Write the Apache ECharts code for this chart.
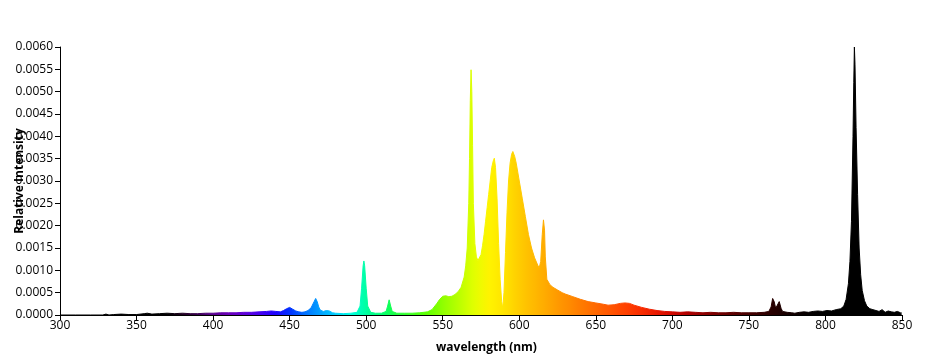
<!DOCTYPE html>
<html>
<head>
<meta charset="utf-8">
<script src="https://cdn.jsdelivr.net/npm/echarts@6/dist/echarts.min.js"></script>
<style>
html,body{margin:0;padding:0;background:#fff;}
#chart{width:939px;height:364px;}
</style>
</head>
<body>
<div id="chart"></div>
<script>
// Wavelength (nm) samples
const wavelengths = [300,310,320,328,330,332,335,340,345,350,355,357,360,365,370,375,380,385,390,395,400,405,410,415,420,425,430,435,438,441,444,446,448,450,452,454,456,458,460,462,464,466,467,468,469,470,472,474,475,476,478,480,485,490,494,496,497,498,498.5,499,500,501,503,506,510,513,514,515,516,517,520,525,530,535,540,543,546,548,550,552,554,556,558,560,562,564,565,566,567,567.5,568,568.5,569,569.5,570,571,572,573,574,575,576,577,578,579,580,581,582,583,583.7,584.5,585.5,586.5,587.5,588.5,589.2,590,591,592,593,594,595,595.8,597,598,600,602,604,606,608,610,612,613,614,615,615.8,616.5,617,618,620,622,625,628,630,635,640,645,650,655,658,662,666,669,672,675,680,685,690,695,700,705,710,715,720,725,730,735,740,745,750,755,760,763,764.5,765.5,766.5,767.5,768.5,769.8,771,772,775,778,780,783,786,789,792,795,798,801,804,807,810,812,813.5,815,816,817,818,818.5,818.9,819.3,820,821,822,823,824,825.5,827,829,831,833,835,837,839,841,843,845,847,849,850];
// Relative intensity at each wavelength
const intensities = [0,0,0,0,0.00002,0,0.00001,0.00002,0.00001,0.00001,0.00003,0.00004,0.00002,0.00003,0.00004,0.00003,0.00004,0.00003,0.00003,0.00004,0.00004,0.00005,0.00005,0.00005,0.00006,0.00006,0.00007,0.00008,0.00009,0.00008,0.00007,0.00010,0.00014,0.00017,0.00013,0.00009,0.00007,0.00006,0.00007,0.00010,0.00016,0.00030,0.00037,0.00030,0.00018,0.00011,0.00008,0.00010,0.00011,0.00009,0.00005,0.00004,0.00003,0.00004,0.00006,0.00020,0.00060,0.00110,0.00121,0.00110,0.00060,0.00020,0.00006,0.00004,0.00004,0.00008,0.00020,0.00034,0.00020,0.00008,0.00004,0.00004,0.00004,0.00005,0.00007,0.00012,0.00025,0.00035,0.00042,0.00043,0.00041,0.00042,0.00046,0.00052,0.00062,0.00085,0.00110,0.00150,0.00250,0.0035,0.0048,0.00549,0.0050,0.0038,0.0025,0.0016,0.00130,0.00122,0.00125,0.00135,0.00155,0.00180,0.0021,0.0024,0.0027,0.0030,0.0033,0.00345,0.00351,0.0033,0.0026,0.0016,0.0008,0.0003,0.00015,0.0005,0.0014,0.0023,0.0030,0.0034,0.00360,0.00366,0.00355,0.0034,0.0030,0.0026,0.0022,0.0018,0.0015,0.00128,0.00112,0.00105,0.0012,0.0018,0.00213,0.0019,0.0013,0.00080,0.00068,0.00062,0.00056,0.00050,0.00047,0.00041,0.00035,0.00030,0.00027,0.00024,0.00022,0.00023,0.00026,0.00027,0.00026,0.00022,0.00017,0.00013,0.00010,0.00008,0.00007,0.00006,0.00007,0.00006,0.00005,0.00006,0.00005,0.00005,0.00006,0.00005,0.00005,0.00005,0.00006,0.00008,0.00018,0.00037,0.00030,0.00015,0.00018,0.00030,0.00015,0.00008,0.00006,0.00005,0.00004,0.00006,0.00007,0.00006,0.00008,0.00009,0.00008,0.00010,0.00009,0.00012,0.00014,0.00020,0.00035,0.00070,0.0012,0.0021,0.0040,0.0052,0.0060,0.0056,0.0042,0.0027,0.0015,0.0009,0.00055,0.00032,0.00020,0.00014,0.00012,0.00010,0.00008,0.00012,0.00006,0.00009,0.00007,0.00006,0.00008,0.00005,0.00004];
// Axis ticks
const xTicks = [300,350,400,450,500,550,600,650,700,750,800,850];
const yTicks = [0,0.0005,0.001,0.0015,0.002,0.0025,0.003,0.0035,0.004,0.0045,0.005,0.0055,0.006];

// Spectral colour stops every 10 nm from 300 to 850
const spectrumColors = [
 '#000000','#000000','#000000','#000000','#000000','#000000','#000000','#000000', // 300-370
 '#200020','#3a0050','#5a0090','#6a00b8','#6000d8','#4800f0','#2000ff','#0030ff', // 380-450
 '#0070ff','#00a0ff','#00d0ff','#00ffe0','#00ffa0','#00ff70','#20ff40','#40ff20', // 460-530
 '#60ff00','#90ff00','#b8ff00','#e0ff00','#fff400','#ffe400','#ffcc00','#ffb800', // 540-610
 '#ffa400','#ff9000','#ff7c00','#ff6800','#ff5400','#ff4000','#f82c00','#e81800', // 620-690
 '#d00800','#b00000','#900000','#740000','#5c0000','#460000','#320000','#200000', // 700-770
 '#100000','#040000','#000000','#000000','#000000','#000000','#000000','#000000'  // 780-850
];

const data = wavelengths.map((w, i) => [w, intensities[i]]);

const chart = echarts.init(document.getElementById('chart'), null, {renderer: 'canvas'});
const font = '"Open Sans", "DejaVu Sans", sans-serif';
chart.setOption({
  animation: false,
  backgroundColor: '#ffffff',
  grid: {left: 60, right: 37, top: 47, bottom: 49, containLabel: false, outerBoundsMode: 'none'},
  visualMap: {
    show: false,
    type: 'continuous',
    dimension: 0,
    seriesIndex: 0,
    min: 300,
    max: 850,
    inRange: {color: spectrumColors}
  },
  xAxis: {
    type: 'value',
    min: xTicks[0],
    max: xTicks[xTicks.length - 1],
    interval: 50,
    name: 'wavelength (nm)',
    nameLocation: 'middle',
    nameGap: 27,
    nameMoveOverlap: false,
    nameTextStyle: {fontFamily: font, fontWeight: 'bold', fontSize: 12, color: '#000', padding: [0, 0, 0, 11]},
    axisLine: {show: true, lineStyle: {color: '#000', width: 1}},
    axisTick: {show: true, length: 5, lineStyle: {color: '#000'}},
    axisLabel: {color: '#000', fontFamily: font, fontSize: 12, margin: 5},
    splitLine: {show: false}
  },
  yAxis: {
    type: 'value',
    min: yTicks[0],
    max: yTicks[yTicks.length - 1],
    interval: 0.0005,
    name: 'Relative Intensity',
    nameLocation: 'middle',
    nameGap: 34,
    nameMoveOverlap: false,
    nameTextStyle: {fontFamily: font, fontWeight: 'bold', fontSize: 12, color: '#000'},
    axisLine: {show: true, lineStyle: {color: '#000', width: 1}},
    axisTick: {show: true, length: 5, lineStyle: {color: '#000'}},
    axisLabel: {color: '#000', fontFamily: font, fontSize: 12, margin: 7,
      formatter: v => v.toFixed(4)},
    splitLine: {show: false}
  },
  series: [{
    type: 'line',
    data: data,
    showSymbol: false,
    symbol: 'none',
    smooth: false,
    lineStyle: {width: 1},
    areaStyle: {opacity: 1},
    z: 1
  }]
});
</script>
</body>
</html>
